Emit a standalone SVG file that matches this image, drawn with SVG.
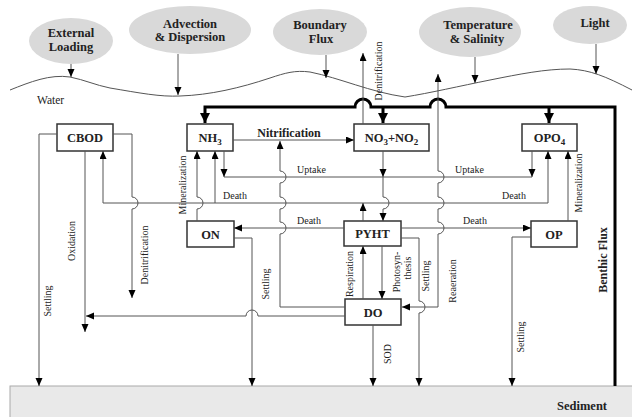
<svg xmlns="http://www.w3.org/2000/svg" width="632" height="417" viewBox="0 0 632 417">
<style>
text{font-family:"Liberation Serif","Times New Roman",serif;fill:#222}
.ell{fill:#d9d9d9}
.et{font-size:12.5px;font-weight:bold;text-anchor:middle}
.box{fill:#fff;stroke:#333;stroke-width:1.5}
.bt{font-size:12.5px;font-weight:bold;text-anchor:middle}
.ln{fill:none;stroke:#555;stroke-width:1}
.tk{fill:none;stroke:#000;stroke-width:3}
.lb{font-size:10px}
.rl{font-size:10px;text-anchor:middle}
</style>
<defs>
<marker id="a" markerUnits="userSpaceOnUse" markerWidth="8" markerHeight="8" refX="8" refY="3.5" orient="auto-start-reverse"><path d="M0,0 L8,3.5 L0,7 z" fill="#000"/></marker>
<marker id="t" markerUnits="userSpaceOnUse" markerWidth="11" markerHeight="11" refX="10" refY="5" orient="auto"><path d="M0,0 L10,5 L0,10 z" fill="#000"/></marker>
</defs>

<g id="sediment">
<rect x="10" y="386" width="624" height="33" fill="#e9e9e9" stroke="#aaa" stroke-width="1"/>
<text x="607" y="410" font-size="12.5" font-weight="bold" text-anchor="end">Sediment</text>
</g>

<g id="external-loading"><ellipse class="ell" cx="71" cy="41" rx="42" ry="23"/><text class="et" x="71" y="37">External</text><text class="et" x="71" y="51">Loading</text></g>
<g id="advection"><ellipse class="ell" cx="190" cy="30" rx="61" ry="24"/><text class="et" x="190" y="28">Advection</text><text class="et" x="190" y="41">&amp; Dispersion</text></g>
<g id="boundary-flux"><ellipse class="ell" cx="320" cy="32" rx="47" ry="23"/><text class="et" x="320" y="29">Boundary</text><text class="et" x="321" y="43">Flux</text></g>
<g id="temperature"><ellipse class="ell" cx="470" cy="32" rx="51" ry="25"/><text class="et" x="478" y="29">Temperature</text><text class="et" x="477" y="43">&amp; Salinity</text></g>
<g id="light"><ellipse class="ell" cx="590" cy="25" rx="37" ry="19"/><text class="et" x="595" y="27">Light</text></g>

<g id="water">
<path class="ln" stroke="#222" d="M10,90 C30,82 50,74 70,77 C85,80 95,85 110,88 C140,93 160,97 180,96 C210,95 240,88 270,78 C285,73 295,70 310,72 C340,78 370,92 405,97 C430,93 460,86 490,80 C520,74 545,69 570,69 C590,70 605,76 632,90"/>
<text x="37" y="104" font-size="11.5">Water</text>
</g>

<g id="CBOD"><rect class="box" x="57" y="124" width="56" height="27"/><text class="bt" x="85" y="142">CBOD</text></g>
<g id="NH3"><rect class="box" x="187" y="124" width="46" height="27"/><text class="bt" x="210" y="142">NH<tspan font-size="9" dy="3">3</tspan></text></g>
<g id="NO3NO2"><rect class="box" x="354" y="124" width="75" height="27"/><text class="bt" x="391.5" y="142">NO<tspan font-size="9" dy="3">3</tspan><tspan dy="-3">+NO</tspan><tspan font-size="9" dy="3">2</tspan></text></g>
<g id="OPO4"><rect class="box" x="522" y="124" width="55" height="27"/><text class="bt" x="549.5" y="142">OPO<tspan font-size="9" dy="3">4</tspan></text></g>
<g id="ON"><rect class="box" x="187" y="221" width="47" height="26"/><text class="bt" x="210.5" y="238.5">ON</text></g>
<g id="PYHT"><rect class="box" x="344" y="221" width="57" height="25"/><text class="bt" x="372.5" y="238">PYHT</text></g>
<g id="OP"><rect class="box" x="531" y="221" width="46" height="26"/><text class="bt" x="554" y="238.5">OP</text></g>
<g id="DO"><rect class="box" x="345" y="299" width="56" height="26"/><text class="bt" x="373" y="316.5">DO</text></g>

<g id="connectors">
<!-- external arrows -->
<path class="ln" stroke="#222" d="M71,64 V77" marker-end="url(#a)"/>
<path class="ln" stroke="#222" d="M178,54 V95" marker-end="url(#a)"/>
<path class="ln" stroke="#222" d="M326,55 V78" marker-end="url(#a)"/>
<path class="ln" stroke="#222" d="M475,57 V83" marker-end="url(#a)"/>
<path class="ln" stroke="#222" d="M596,44 V74" marker-end="url(#a)"/>

<!-- thick benthic flux -->
<path class="tk" d="M615,386 V107 H446 A8,8 0 0 0 430,107 H371 A8,8 0 0 0 355,107 H205 V123" marker-end="url(#t)"/>
<path class="tk" d="M383,107 V123" marker-end="url(#t)"/>
<path class="tk" d="M549,107 V123" marker-end="url(#t)"/>

<!-- CBOD -->
<path class="ln" d="M57,134 H39 V386" marker-end="url(#a)"/>
<path class="ln" d="M85,151 V332" marker-end="url(#a)"/>
<path class="ln" d="M113,134 H132 V197 A6,6 0 0 1 132,209 V298" marker-end="url(#a)"/>

<!-- Death line from PYHT top -->
<path class="ln" d="M103,203 H548"/>
<path class="ln" d="M103,203 V151" marker-end="url(#a)"/>
<path class="ln" d="M215,203 V151" marker-end="url(#a)"/>
<path class="ln" d="M548,203 V151" marker-end="url(#a)"/>
<path class="ln" d="M363,221 V203" marker-end="url(#a)"/>

<!-- Uptake -->
<path class="ln" d="M224,177 H532"/>
<path class="ln" d="M224,151 V177" marker-end="url(#a)"/>
<path class="ln" d="M532,151 V177" marker-end="url(#a)"/>
<path class="ln" d="M383,151 V177" marker-end="url(#a)"/>
<path class="ln" d="M383,177 V197 A6,6 0 0 1 383,209 V221" marker-end="url(#a)"/>

<!-- Nitrification -->
<path class="ln" d="M233,140 H354" marker-end="url(#a)"/>
<path class="ln" d="M345,307 H280 V234 A6,6 0 0 0 280,222 V209 A6,6 0 0 0 280,197 V183 A6,6 0 0 0 280,171 V141" marker-end="url(#a)"/>

<!-- Denitrification up -->
<path class="ln" d="M363,124 V53" marker-end="url(#a)"/>

<!-- PYHT deaths -->
<path class="ln" d="M344,228 H234" marker-end="url(#a)"/>
<path class="ln" d="M401,228 H531" marker-end="url(#a)"/>

<!-- mineralization -->
<path class="ln" d="M197,221 V209 A6,6 0 0 0 197,197 V151" marker-end="url(#a)"/>
<path class="ln" d="M568,221 V151" marker-end="url(#a)"/>

<!-- settling -->
<path class="ln" d="M234,238 H252 V386" marker-end="url(#a)"/>
<path class="ln" d="M531,237 H512 V386" marker-end="url(#a)"/>
<path class="ln" d="M401,238 H419 V301 A6,6 0 0 1 419,313 V386" marker-end="url(#a)"/>

<!-- reaeration -->
<path class="ln" d="M402,307 H438 V234 A6,6 0 0 0 438,222 V209 A6,6 0 0 0 438,197 V183 A6,6 0 0 0 438,171 V74" marker-start="url(#a)" marker-end="url(#a)"/>

<!-- PYHT / DO -->
<path class="ln" d="M363,299 V246" marker-end="url(#a)"/>
<path class="ln" d="M382,246 V299" marker-end="url(#a)"/>
<path class="ln" d="M373,325 V386" marker-end="url(#a)"/>
<path class="ln" d="M345,316 H258 A6,6 0 0 0 246,316 H86" marker-end="url(#a)"/>
</g>

<g id="labels">
<text x="289" y="137" font-size="12" font-weight="bold" text-anchor="middle">Nitrification</text>
<text class="lb" x="297" y="173">Uptake</text>
<text class="lb" x="455" y="173">Uptake</text>
<text class="lb" x="223" y="199">Death</text>
<text class="lb" x="502" y="199">Death</text>
<text class="lb" x="297" y="224">Death</text>
<text class="lb" x="463" y="224">Death</text>
<text class="rl" transform="rotate(-90 51 301)" x="51" y="301">Settling</text>
<text class="rl" transform="rotate(-90 75 241)" x="75" y="241">Oxidation</text>
<text class="rl" transform="rotate(-90 148 255)" x="148" y="255">Denitrification</text>
<text class="rl" transform="rotate(-90 186 185)" x="186" y="185">Mineralization</text>
<text class="rl" transform="rotate(-90 269 284)" x="269" y="284">Settling</text>
<text class="rl" transform="rotate(-90 353 274)" x="353" y="274">Respiration</text>
<text class="rl" transform="rotate(-90 400 272)" x="400" y="272">Photosyn-</text>
<text class="rl" transform="rotate(-90 411 268)" x="411" y="268">thesis</text>
<text class="rl" transform="rotate(-90 429 276)" x="429" y="276">Settling</text>
<text class="rl" transform="rotate(-90 456 281)" x="456" y="281">Reaeration</text>
<text class="rl" transform="rotate(-90 391 354)" x="391" y="354">SOD</text>
<text class="rl" transform="rotate(-90 524 337)" x="524" y="337">Settling</text>
<text class="rl" transform="rotate(-90 582 183)" x="582" y="183">Mineralization</text>
<text class="rl" transform="rotate(-90 382 71)" x="382" y="71">Denitrification</text>
<text transform="rotate(-90 607 260)" x="607" y="260" font-size="12" font-weight="bold" text-anchor="middle">Benthic Flux</text>
</g>
</svg>
